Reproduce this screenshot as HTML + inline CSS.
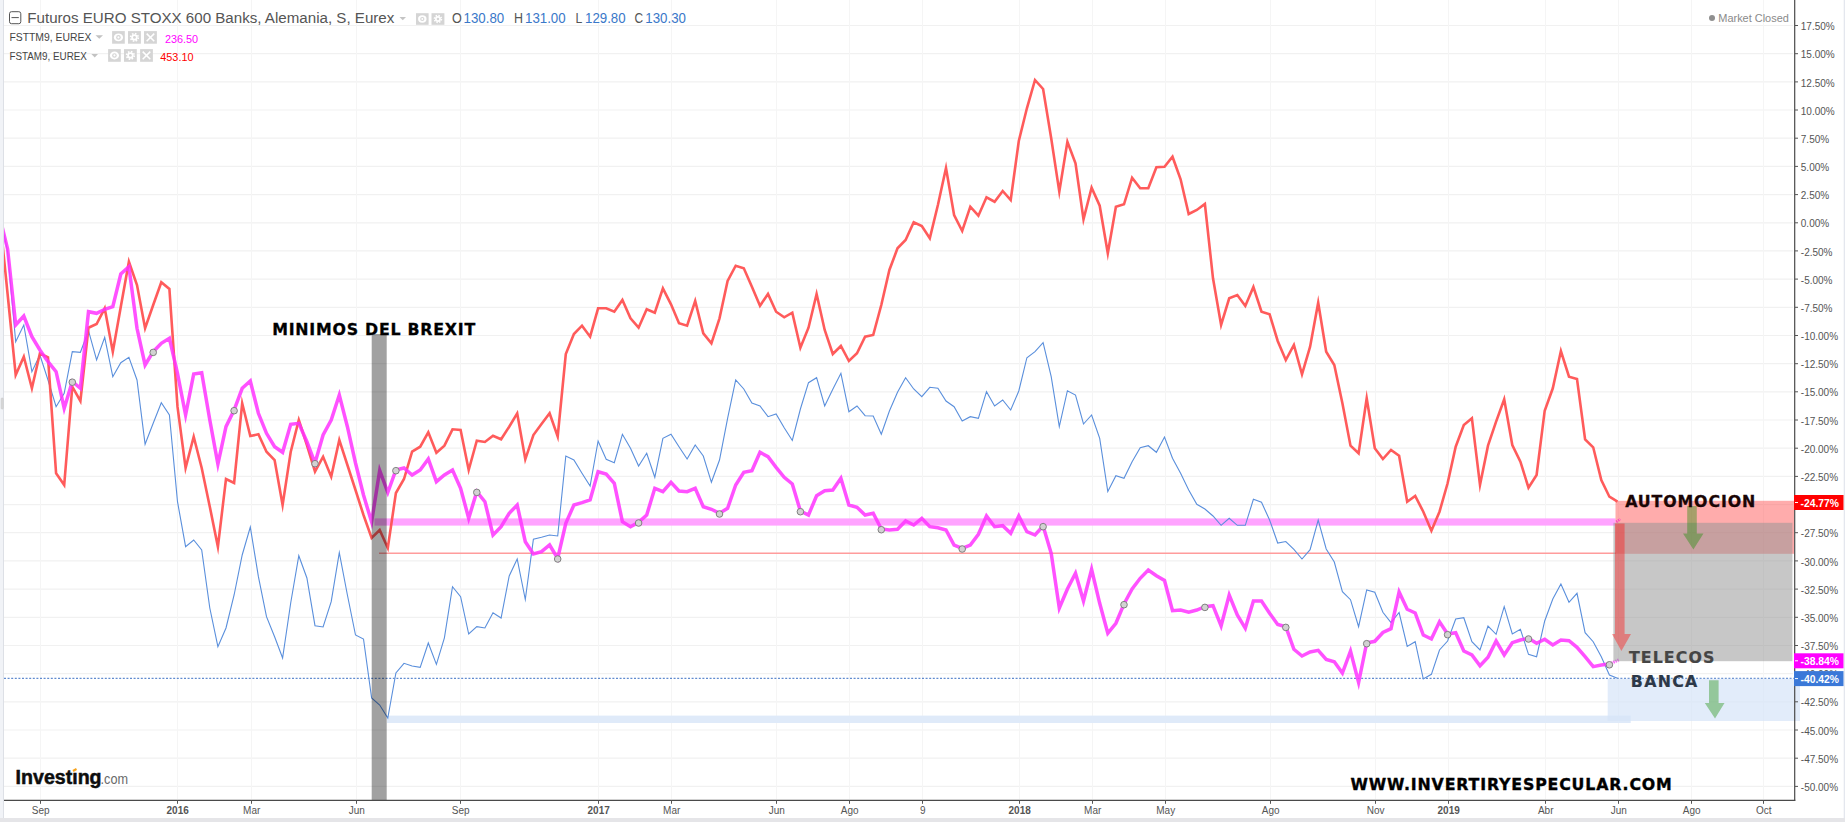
<!DOCTYPE html>
<html lang="es"><head><meta charset="utf-8"><title>Futuros EURO STOXX 600 Banks</title>
<style>html,body{margin:0;padding:0;background:#fff;overflow:hidden}svg{display:block}text{font-family:"Liberation Sans",sans-serif}.ax{font-size:10px;fill:#555}.blk{font-family:"DejaVu Sans","Liberation Sans",sans-serif;font-weight:bold;stroke-linejoin:miter}</style></head><body>
<svg width="1845" height="822" viewBox="0 0 1845 822">
<defs><clipPath id="cp"><rect x="4" y="0" width="1790.5" height="800"/></clipPath></defs>
<rect x="0" y="0" width="1845" height="822" fill="#fff"/>
<path d="M4 25.5H1793 M4 53.7H1793 M4 81.9H1793 M4 110.0H1793 M4 138.2H1793 M4 166.4H1793 M4 194.6H1793 M4 222.8H1793 M4 250.9H1793 M4 279.1H1793 M4 307.3H1793 M4 335.5H1793 M4 363.7H1793 M4 391.8H1793 M4 420.0H1793 M4 448.2H1793 M4 476.4H1793 M4 504.6H1793 M4 532.7H1793 M4 560.9H1793 M4 589.1H1793 M4 617.3H1793 M4 645.5H1793 M4 673.6H1793 M4 701.8H1793 M4 730.0H1793 M4 758.2H1793 M4 786.4H1793" stroke="#f1f1f1" stroke-width="1.2" fill="none"/>
<path d="M40.5 0V799 M177.5 0V799 M251.5 0V799 M356.5 0V799 M460.5 0V799 M598.5 0V799 M671.5 0V799 M776.5 0V799 M849.5 0V799 M922.5 0V799 M1019.5 0V799 M1092.5 0V799 M1165.5 0V799 M1270.5 0V799 M1375.5 0V799 M1448.5 0V799 M1545.5 0V799 M1618.5 0V799 M1691.5 0V799 M1763.5 0V799" stroke="#f5f5f5" stroke-width="1" fill="none"/>
<rect x="0" y="0" width="3" height="822" fill="#f1f3f7"/><rect x="3" y="0" width="1" height="822" fill="#dde0e6"/>
<rect x="1843.7" y="0" width="1.3" height="822" fill="#e4e7ee"/>
<rect x="0" y="818" width="1845" height="4" fill="#e5e5e8"/>
<rect x="1.2" y="398" width="2" height="11" rx="0.8" fill="#dadada" stroke="#c6c6c6" stroke-width="0.6"/>
<g clip-path="url(#cp)">
<rect x="387" y="715.6" width="1243.7" height="7.4" fill="#dfeaf9"/>
<rect x="374.5" y="518.4" width="1241" height="7.2" fill="#ffa3ff"/>
<path d="M379 553.3H1616" stroke="#ff9c9c" stroke-width="1.6" fill="none"/>
<path d="M4 678.3H1794" stroke="#3a6fc4" stroke-width="1" stroke-dasharray="2 1.6" fill="none"/>
<polyline points="-0.5,212.0 7.6,252.0 15.7,341.7 23.8,325.0 31.9,371.7 39.9,355.0 48.0,380.0 56.1,406.7 64.2,393.3 72.3,351.7 80.4,352.3 88.5,330.7 96.6,360.0 104.7,337.3 112.8,376.7 120.8,362.7 128.9,357.3 137.0,380.0 145.1,444.3 153.2,423.3 161.3,402.7 169.4,415.0 177.5,501.7 185.6,546.7 193.7,540.0 201.7,550.0 209.8,608.0 217.9,646.7 226.0,628.0 234.1,595.0 242.2,555.0 250.3,527.0 258.4,576.7 266.5,616.7 274.6,636.7 282.6,658.0 290.7,603.0 298.8,555.7 306.9,578.0 315.0,625.7 323.1,627.0 331.2,601.7 339.3,552.7 347.4,595.0 355.5,635.0 363.5,639.0 371.6,698.0 379.7,705.0 387.8,718.0 395.9,673.0 404.0,663.3 412.1,666.0 420.2,667.3 428.3,643.0 436.4,664.4 444.4,637.8 452.5,586.7 460.6,596.7 468.7,634.0 476.8,626.7 484.9,628.0 493.0,612.7 501.1,618.0 509.2,576.0 517.2,559.0 525.3,599.5 533.4,539.3 541.5,537.3 549.6,535.0 557.7,536.0 565.8,456.0 573.9,460.0 582.0,473.3 590.1,486.0 598.1,441.0 606.2,459.3 614.3,462.7 622.4,434.3 630.5,448.3 638.6,466.0 646.7,453.3 654.8,477.3 662.9,438.3 671.0,434.3 679.0,446.7 687.1,459.0 695.2,445.0 703.3,456.0 711.4,482.3 719.5,460.0 727.6,418.3 735.7,380.0 743.8,389.0 751.9,403.0 760.0,406.0 768.0,416.7 776.1,414.0 784.2,427.7 792.3,440.5 800.4,409.0 808.5,382.7 816.6,377.7 824.7,406.0 832.8,389.3 840.9,373.3 848.9,411.7 857.0,406.0 865.1,415.7 873.2,416.0 881.3,434.3 889.4,411.0 897.5,392.3 905.6,377.7 913.7,389.0 921.8,396.7 929.8,387.3 937.9,388.3 946.0,401.0 954.1,406.7 962.2,421.0 970.3,416.7 978.4,418.3 986.5,391.7 994.6,406.0 1002.7,400.0 1010.7,410.0 1018.8,391.0 1026.9,357.7 1035.0,351.7 1043.1,342.7 1051.2,376.7 1059.3,426.7 1067.4,390.7 1075.5,395.0 1083.5,424.0 1091.6,415.0 1099.7,438.3 1107.8,491.5 1115.9,475.7 1124.0,478.3 1132.1,461.7 1140.2,447.7 1148.3,445.7 1156.4,452.3 1164.5,437.0 1172.5,458.3 1180.6,473.3 1188.7,490.0 1196.8,504.3 1204.9,509.0 1213.0,516.0 1221.1,525.3 1229.2,518.3 1237.3,525.3 1245.3,525.3 1253.4,499.3 1261.5,502.3 1269.6,520.0 1277.7,543.0 1285.8,541.5 1293.9,549.3 1302.0,559.0 1310.1,549.7 1318.2,520.0 1326.2,549.0 1334.3,562.0 1342.4,591.7 1350.5,599.7 1358.6,626.7 1366.7,590.0 1374.8,592.3 1382.9,612.3 1391.0,622.7 1399.1,612.5 1407.2,646.5 1415.2,641.7 1423.3,679.0 1431.4,674.3 1439.5,650.0 1447.6,641.0 1455.7,619.0 1463.8,617.7 1471.9,641.7 1480.0,650.0 1488.0,626.0 1496.1,634.3 1504.2,606.7 1512.3,634.0 1520.4,629.3 1528.5,654.3 1536.6,656.7 1544.7,621.0 1552.8,599.0 1560.9,584.0 1569.0,602.3 1577.0,593.3 1585.1,632.7 1593.2,641.7 1601.3,656.7 1609.4,675.0 1617.5,678.3" fill="none" stroke="#5a8fdc" stroke-width="1.1" stroke-linejoin="miter" stroke-miterlimit="10"/>
<polyline points="-0.5,214.0 7.6,294.0 15.7,375.0 23.8,356.7 31.9,388.3 39.9,353.3 48.0,357.3 56.1,473.3 64.2,485.0 72.3,386.7 80.4,401.0 88.5,327.7 96.6,324.0 104.7,308.3 112.8,351.7 120.8,306.7 128.9,261.7 137.0,285.0 145.1,328.3 153.2,305.0 161.3,282.3 169.4,289.0 177.5,406.7 185.6,468.0 193.7,436.7 201.7,468.0 209.8,506.7 217.9,546.7 226.0,479.0 234.1,483.0 242.2,403.3 250.3,436.0 258.4,434.3 266.5,451.7 274.6,460.0 282.6,505.0 290.7,452.0 298.8,420.0 306.9,445.0 315.0,471.7 323.1,456.7 331.2,476.7 339.3,440.0 347.4,465.0 355.5,490.0 363.5,515.0 371.6,538.0 379.7,530.0 387.8,548.0 395.9,493.0 404.0,479.0 412.1,451.7 420.2,446.7 428.3,432.3 436.4,452.7 444.4,445.7 452.5,429.3 460.6,430.0 468.7,470.0 476.8,440.7 484.9,442.0 493.0,435.7 501.1,439.3 509.2,426.7 517.2,413.3 525.3,459.3 533.4,435.0 541.5,424.0 549.6,413.3 557.7,436.5 565.8,354.0 573.9,334.0 582.0,325.7 590.1,336.7 598.1,308.3 606.2,308.3 614.3,311.7 622.4,300.0 630.5,318.3 638.6,327.7 646.7,309.3 654.8,312.7 662.9,288.3 671.0,304.3 679.0,323.3 687.1,325.7 695.2,301.0 703.3,333.3 711.4,343.3 719.5,318.3 727.6,281.0 735.7,265.7 743.8,268.3 751.9,286.7 760.0,305.7 768.0,294.0 776.1,311.7 784.2,317.3 792.3,312.7 800.4,347.7 808.5,327.7 816.6,294.0 824.7,330.0 832.8,354.0 840.9,346.0 848.9,361.0 857.0,353.3 865.1,336.7 873.2,335.0 881.3,305.0 889.4,270.0 897.5,248.3 905.6,240.0 913.7,222.3 921.8,226.0 929.8,238.3 937.9,205.0 946.0,168.0 954.1,215.0 962.2,231.0 970.3,206.7 978.4,215.7 986.5,197.3 994.6,201.7 1002.7,191.0 1010.7,200.0 1018.8,141.0 1026.9,108.3 1035.0,80.0 1043.1,89.0 1051.2,138.3 1059.3,191.7 1067.4,141.7 1075.5,163.3 1083.5,219.3 1091.6,187.7 1099.7,205.7 1107.8,253.3 1115.9,206.7 1124.0,204.3 1132.1,177.7 1140.2,188.3 1148.3,188.3 1156.4,167.3 1164.5,166.7 1172.5,156.7 1180.6,179.3 1188.7,214.0 1196.8,210.0 1204.9,204.0 1213.0,278.3 1221.1,325.0 1229.2,298.3 1237.3,295.0 1245.3,306.0 1253.4,287.0 1261.5,311.7 1269.6,314.3 1277.7,341.0 1285.8,360.0 1293.9,345.0 1302.0,374.3 1310.1,346.7 1318.2,302.7 1326.2,351.7 1334.3,365.0 1342.4,403.3 1350.5,445.7 1358.6,453.3 1366.7,398.3 1374.8,448.3 1382.9,459.0 1391.0,450.0 1399.1,455.7 1407.2,501.7 1415.2,496.0 1423.3,511.7 1431.4,530.7 1439.5,511.7 1447.6,483.3 1455.7,446.7 1463.8,425.0 1471.9,418.3 1480.0,485.0 1488.0,445.7 1496.1,421.7 1504.2,399.3 1512.3,445.0 1520.4,461.7 1528.5,487.7 1536.6,475.0 1544.7,410.7 1552.8,388.3 1560.9,351.0 1569.0,376.7 1577.0,379.0 1585.1,439.3 1593.2,447.3 1601.3,480.0 1609.4,496.7 1617.5,501.7" fill="none" stroke="#ff5252" stroke-width="2.6" stroke-linejoin="miter" stroke-miterlimit="10" stroke-opacity="0.95"/>
<polyline points="-0.5,216.0 7.6,249.0 15.7,325.0 23.8,316.0 31.9,336.7 39.9,350.0 48.0,361.7 56.1,371.7 64.2,408.3 72.3,381.5 80.4,388.3 88.5,311.7 96.6,313.3 104.7,309.3 112.8,306.7 120.8,274.0 128.9,266.7 137.0,328.3 145.1,365.0 153.2,351.7 161.3,343.3 169.4,338.3 177.5,373.3 185.6,415.0 193.7,374.0 201.7,372.7 209.8,420.0 217.9,464.0 226.0,426.7 234.1,410.0 242.2,388.3 250.3,381.0 258.4,413.3 266.5,433.3 274.6,446.7 282.6,452.3 290.7,424.3 298.8,423.3 306.9,441.7 315.0,463.0 323.1,435.0 331.2,420.0 339.3,395.0 347.4,426.7 355.5,463.0 363.5,495.0 371.6,522.0 379.7,470.5 387.8,492.5 395.9,470.0 404.0,468.0 412.1,475.0 420.2,470.0 428.3,459.0 436.4,481.7 444.4,475.0 452.5,470.0 460.6,488.3 468.7,518.3 476.8,491.7 484.9,501.7 493.0,535.0 501.1,526.7 509.2,513.3 517.2,505.0 525.3,541.7 533.4,554.0 541.5,551.7 549.6,545.0 557.7,558.3 565.8,523.3 573.9,505.0 582.0,502.7 590.1,500.0 598.1,471.7 606.2,474.0 614.3,483.3 622.4,521.7 630.5,526.7 638.6,522.3 646.7,515.0 654.8,488.3 662.9,491.7 671.0,482.3 679.0,491.0 687.1,491.7 695.2,488.3 703.3,506.7 711.4,509.3 719.5,513.3 727.6,508.3 735.7,485.0 743.8,472.3 751.9,470.7 760.0,452.3 768.0,456.7 776.1,467.3 784.2,477.3 792.3,484.0 800.4,511.0 808.5,515.0 816.6,495.7 824.7,490.7 832.8,490.0 840.9,478.3 848.9,505.0 857.0,507.3 865.1,515.0 873.2,513.3 881.3,529.0 889.4,530.0 897.5,529.3 905.6,521.0 913.7,525.0 921.8,518.3 929.8,526.7 937.9,527.7 946.0,530.0 954.1,545.0 962.2,548.3 970.3,545.0 978.4,534.3 986.5,516.0 994.6,526.7 1002.7,525.7 1010.7,533.3 1018.8,516.0 1026.9,531.7 1035.0,535.0 1043.1,526.0 1051.2,553.3 1059.3,608.0 1067.4,589.0 1075.5,573.3 1083.5,601.0 1091.6,569.3 1099.7,603.3 1107.8,633.3 1115.9,623.3 1124.0,604.0 1132.1,589.0 1140.2,578.3 1148.3,570.0 1156.4,575.7 1164.5,580.5 1172.5,610.7 1180.6,610.0 1188.7,612.3 1196.8,610.0 1204.9,606.7 1213.0,605.7 1221.1,626.0 1229.2,595.0 1237.3,615.0 1245.3,628.3 1253.4,601.0 1261.5,601.0 1269.6,613.3 1277.7,624.5 1285.8,626.7 1293.9,649.3 1302.0,656.0 1310.1,652.0 1318.2,650.3 1326.2,659.5 1334.3,661.7 1342.4,673.0 1350.5,651.0 1358.6,682.5 1366.7,643.0 1374.8,641.3 1382.9,632.5 1391.0,628.7 1399.1,592.0 1407.2,609.3 1415.2,613.0 1423.3,635.0 1431.4,639.0 1439.5,621.7 1447.6,634.0 1455.7,632.7 1463.8,651.0 1471.9,655.0 1480.0,665.7 1488.0,657.3 1496.1,641.0 1504.2,655.0 1512.3,642.7 1520.4,640.0 1528.5,638.3 1536.6,643.3 1544.7,639.3 1552.8,645.0 1560.9,640.0 1569.0,640.7 1577.0,647.3 1585.1,656.7 1593.2,666.6 1601.3,665.1 1609.4,664.1" fill="none" stroke="#ff33ff" stroke-width="3.5" stroke-linejoin="miter" stroke-miterlimit="10" stroke-opacity="0.85"/>
<path d="M1609.4 664.1L1619.4 659.6" stroke="#ff33ff" stroke-opacity="0.8" stroke-width="3" stroke-dasharray="1.4 0.8" fill="none"/>
<circle cx="72.3" cy="382.2" r="3.3" fill="#d2d2d2" stroke="#808080" stroke-width="1"/>
<circle cx="153.2" cy="352.4" r="3.3" fill="#d2d2d2" stroke="#808080" stroke-width="1"/>
<circle cx="234.1" cy="410.7" r="3.3" fill="#d2d2d2" stroke="#808080" stroke-width="1"/>
<circle cx="315.0" cy="463.7" r="3.3" fill="#d2d2d2" stroke="#808080" stroke-width="1"/>
<circle cx="395.9" cy="470.7" r="3.3" fill="#d2d2d2" stroke="#808080" stroke-width="1"/>
<circle cx="476.8" cy="492.4" r="3.3" fill="#d2d2d2" stroke="#808080" stroke-width="1"/>
<circle cx="557.7" cy="559.0" r="3.3" fill="#d2d2d2" stroke="#808080" stroke-width="1"/>
<circle cx="638.6" cy="523.0" r="3.3" fill="#d2d2d2" stroke="#808080" stroke-width="1"/>
<circle cx="719.5" cy="514.0" r="3.3" fill="#d2d2d2" stroke="#808080" stroke-width="1"/>
<circle cx="800.4" cy="511.7" r="3.3" fill="#d2d2d2" stroke="#808080" stroke-width="1"/>
<circle cx="881.3" cy="529.7" r="3.3" fill="#d2d2d2" stroke="#808080" stroke-width="1"/>
<circle cx="962.2" cy="549.0" r="3.3" fill="#d2d2d2" stroke="#808080" stroke-width="1"/>
<circle cx="1043.1" cy="526.7" r="3.3" fill="#d2d2d2" stroke="#808080" stroke-width="1"/>
<circle cx="1124.0" cy="604.7" r="3.3" fill="#d2d2d2" stroke="#808080" stroke-width="1"/>
<circle cx="1204.9" cy="607.4" r="3.3" fill="#d2d2d2" stroke="#808080" stroke-width="1"/>
<circle cx="1285.8" cy="627.4" r="3.3" fill="#d2d2d2" stroke="#808080" stroke-width="1"/>
<circle cx="1366.7" cy="643.7" r="3.3" fill="#d2d2d2" stroke="#808080" stroke-width="1"/>
<circle cx="1447.6" cy="634.7" r="3.3" fill="#d2d2d2" stroke="#808080" stroke-width="1"/>
<circle cx="1528.5" cy="639.0" r="3.3" fill="#d2d2d2" stroke="#808080" stroke-width="1"/>
<circle cx="1609.4" cy="664.8" r="3.3" fill="#d2d2d2" stroke="#808080" stroke-width="1"/>
<rect x="371.7" y="334" width="15" height="466" fill="#000" fill-opacity="0.37"/>
<rect x="1607.7" y="678.8" width="192" height="42.2" fill="#d6e4f8" fill-opacity="0.7"/>
<rect x="1615.5" y="500.8" width="178.5" height="53" fill="#ff5a5a" fill-opacity="0.5"/>
<rect x="1613.4" y="522.8" width="179" height="138.4" fill="#969696" fill-opacity="0.53"/>
<path d="M1615 523.5H1624.6V634H1631L1621.4 651L1612 634H1615Z" fill="#ff1919" fill-opacity="0.42"/><path d="M1616.3 521.8L1620.3 519.2" stroke="#ff40c0" stroke-width="2.6" stroke-dasharray="1.3 0.9" fill="none"/>
<path d="M1687.2 506H1696.8V533.5H1703.5L1693.4 549.6L1683 533.5H1687.2Z" fill="#148c00" fill-opacity="0.38"/>
<path d="M1709 680.2H1718.6V703H1724.5L1715 718.6L1704.8 703H1709Z" fill="#148c00" fill-opacity="0.38"/>
</g>
<rect x="1794.5" y="678.8" width="5.5" height="42.2" fill="#d6e4f8" fill-opacity="0.7"/>
<path d="M1794.7 0V800.5" stroke="#4a4a4a" stroke-width="1.2" fill="none"/>
<path d="M4 800.4H1795.4" stroke="#4a4a4a" stroke-width="1.4" fill="none"/>
<path d="M1795 25.5h3 M1795 53.7h3 M1795 81.9h3 M1795 110.0h3 M1795 138.2h3 M1795 166.4h3 M1795 194.6h3 M1795 222.8h3 M1795 250.9h3 M1795 279.1h3 M1795 307.3h3 M1795 335.5h3 M1795 363.7h3 M1795 391.8h3 M1795 420.0h3 M1795 448.2h3 M1795 476.4h3 M1795 504.6h3 M1795 532.7h3 M1795 560.9h3 M1795 589.1h3 M1795 617.3h3 M1795 645.5h3 M1795 673.6h3 M1795 701.8h3 M1795 730.0h3 M1795 758.2h3 M1795 786.4h3 M40.5 800.5v3.3 M177.5 800.5v3.3 M251.5 800.5v3.3 M356.5 800.5v3.3 M460.5 800.5v3.3 M598.5 800.5v3.3 M671.5 800.5v3.3 M776.5 800.5v3.3 M849.5 800.5v3.3 M922.5 800.5v3.3 M1019.5 800.5v3.3 M1092.5 800.5v3.3 M1165.5 800.5v3.3 M1270.5 800.5v3.3 M1375.5 800.5v3.3 M1448.5 800.5v3.3 M1545.5 800.5v3.3 M1618.5 800.5v3.3 M1691.5 800.5v3.3 M1763.5 800.5v3.3" stroke="#555" stroke-width="1" fill="none"/>
<text class="ax" x="1800.8" y="30.1">17.50%</text>
<text class="ax" x="1800.8" y="58.3">15.00%</text>
<text class="ax" x="1800.8" y="86.5">12.50%</text>
<text class="ax" x="1800.8" y="114.6">10.00%</text>
<text class="ax" x="1800.8" y="142.8">7.50%</text>
<text class="ax" x="1800.8" y="171.0">5.00%</text>
<text class="ax" x="1800.8" y="199.2">2.50%</text>
<text class="ax" x="1800.8" y="227.4">0.00%</text>
<text class="ax" x="1800.8" y="255.5">-2.50%</text>
<text class="ax" x="1800.8" y="283.7">-5.00%</text>
<text class="ax" x="1800.8" y="311.9">-7.50%</text>
<text class="ax" x="1800.8" y="340.1">-10.00%</text>
<text class="ax" x="1800.8" y="368.3">-12.50%</text>
<text class="ax" x="1800.8" y="396.4">-15.00%</text>
<text class="ax" x="1800.8" y="424.6">-17.50%</text>
<text class="ax" x="1800.8" y="452.8">-20.00%</text>
<text class="ax" x="1800.8" y="481.0">-22.50%</text>
<text class="ax" x="1800.8" y="509.2">-25.00%</text>
<text class="ax" x="1800.8" y="537.3">-27.50%</text>
<text class="ax" x="1800.8" y="565.5">-30.00%</text>
<text class="ax" x="1800.8" y="593.7">-32.50%</text>
<text class="ax" x="1800.8" y="621.9">-35.00%</text>
<text class="ax" x="1800.8" y="650.1">-37.50%</text>
<text class="ax" x="1800.8" y="678.2">-40.00%</text>
<text class="ax" x="1800.8" y="706.4">-42.50%</text>
<text class="ax" x="1800.8" y="734.6">-45.00%</text>
<text class="ax" x="1800.8" y="762.8">-47.50%</text>
<text class="ax" x="1800.8" y="791.0">-50.00%</text>
<text class="ax" x="40.7" y="814" text-anchor="middle">Sep</text>
<text class="ax" x="177.7" y="814" text-anchor="middle" font-weight="bold">2016</text>
<text class="ax" x="251.7" y="814" text-anchor="middle">Mar</text>
<text class="ax" x="356.7" y="814" text-anchor="middle">Jun</text>
<text class="ax" x="460.7" y="814" text-anchor="middle">Sep</text>
<text class="ax" x="598.7" y="814" text-anchor="middle" font-weight="bold">2017</text>
<text class="ax" x="671.7" y="814" text-anchor="middle">Mar</text>
<text class="ax" x="776.7" y="814" text-anchor="middle">Jun</text>
<text class="ax" x="849.7" y="814" text-anchor="middle">Ago</text>
<text class="ax" x="922.7" y="814" text-anchor="middle">9</text>
<text class="ax" x="1019.7" y="814" text-anchor="middle" font-weight="bold">2018</text>
<text class="ax" x="1092.7" y="814" text-anchor="middle">Mar</text>
<text class="ax" x="1165.7" y="814" text-anchor="middle">May</text>
<text class="ax" x="1270.7" y="814" text-anchor="middle">Ago</text>
<text class="ax" x="1375.7" y="814" text-anchor="middle">Nov</text>
<text class="ax" x="1448.7" y="814" text-anchor="middle" font-weight="bold">2019</text>
<text class="ax" x="1545.7" y="814" text-anchor="middle">Abr</text>
<text class="ax" x="1618.7" y="814" text-anchor="middle">Jun</text>
<text class="ax" x="1691.7" y="814" text-anchor="middle">Ago</text>
<text class="ax" x="1763.7" y="814" text-anchor="middle">Oct</text>
<rect x="1794" y="495.0" width="49.5" height="15" fill="#ff0000"/>
<path d="M1795 502.5h3" stroke="#fff" stroke-width="1"/>
<text x="1800.5" y="506.5" font-size="11" font-weight="bold" fill="#fff" textLength="38.5" lengthAdjust="spacingAndGlyphs">-24.77%</text>
<rect x="1794" y="653.3" width="49.5" height="15" fill="#ff00ff"/>
<path d="M1795 660.8h3" stroke="#fff" stroke-width="1"/>
<text x="1800.5" y="664.8" font-size="11" font-weight="bold" fill="#fff" textLength="38.5" lengthAdjust="spacingAndGlyphs">-38.84%</text>
<rect x="1794" y="671.1" width="49.5" height="15" fill="#3a78d8"/>
<path d="M1795 678.6h3" stroke="#fff" stroke-width="1"/>
<text x="1800.5" y="682.6" font-size="11" font-weight="bold" fill="#fff" textLength="38.5" lengthAdjust="spacingAndGlyphs">-40.42%</text>
<rect x="9.5" y="11.7" width="11.3" height="12" rx="2" fill="#fff" stroke="#555" stroke-width="1"/><path d="M11.5 17.6H18.8" stroke="#555" stroke-width="1"/>
<text x="27.3" y="23.1" font-size="15.5" fill="#555" textLength="367" lengthAdjust="spacingAndGlyphs">Futuros EURO STOXX 600 Banks, Alemania, S, Eurex</text>
<path d="M399.5 17h6.5l-3.25 3.3z" fill="#c4c4c4"/>
<rect x="416" y="13.2" width="12.6" height="11.6" fill="#d5d5d5"/>
<ellipse cx="422.3" cy="19.0" rx="4.23" ry="3.63" fill="#fff"/><circle cx="422.3" cy="19.0" r="2.12" fill="#d5d5d5"/><circle cx="422.3" cy="19.0" r="1.01" fill="#fff"/>
<rect x="431.5" y="13.2" width="12.9" height="11.6" fill="#d5d5d5"/>
<circle cx="437.95" cy="19.0" r="2.94" fill="#fff"/><circle cx="437.95" cy="19.0" r="3.50" fill="none" stroke="#fff" stroke-width="1.56" stroke-dasharray="1.426 1.320"/><circle cx="437.95" cy="19.0" r="1.29" fill="#d5d5d5"/>
<text x="452" y="23.3" font-size="14" fill="#555" textLength="9.8" lengthAdjust="spacingAndGlyphs">O</text>
<text x="463.6" y="23.3" font-size="14" fill="#3a78c9" textLength="40.6" lengthAdjust="spacingAndGlyphs">130.80</text>
<text x="514" y="23.3" font-size="14" fill="#555" textLength="9" lengthAdjust="spacingAndGlyphs">H</text>
<text x="525" y="23.3" font-size="14" fill="#3a78c9" textLength="40.6" lengthAdjust="spacingAndGlyphs">131.00</text>
<text x="575.5" y="23.3" font-size="14" fill="#555" textLength="6.8" lengthAdjust="spacingAndGlyphs">L</text>
<text x="585" y="23.3" font-size="14" fill="#3a78c9" textLength="40.6" lengthAdjust="spacingAndGlyphs">129.80</text>
<text x="634.5" y="23.3" font-size="14" fill="#555" textLength="8.6" lengthAdjust="spacingAndGlyphs">C</text>
<text x="645.3" y="23.3" font-size="14" fill="#3a78c9" textLength="40.6" lengthAdjust="spacingAndGlyphs">130.30</text>
<text x="9.4" y="40.9" font-size="11" fill="#444" textLength="82" lengthAdjust="spacingAndGlyphs">FSTTM9, EUREX</text>
<path d="M95.5 35.2h7.5l-3.75 3.5z" fill="#c2c2c2"/>
<rect x="112.1" y="31.1" width="12.7" height="12.6" fill="#d5d5d5"/>
<ellipse cx="118.45" cy="37.4" rx="4.60" ry="3.95" fill="#fff"/><circle cx="118.45" cy="37.4" r="2.30" fill="#d5d5d5"/><circle cx="118.45" cy="37.4" r="1.10" fill="#fff"/>
<rect x="128" y="31.1" width="12.9" height="12.6" fill="#d5d5d5"/>
<circle cx="134.45" cy="37.4" r="3.20" fill="#fff"/><circle cx="134.45" cy="37.4" r="3.80" fill="none" stroke="#fff" stroke-width="1.70" stroke-dasharray="1.550 1.435"/><circle cx="134.45" cy="37.4" r="1.40" fill="#d5d5d5"/>
<rect x="144" y="31.1" width="12.9" height="12.6" fill="#d5d5d5"/>
<path d="M146.65 33.60L154.25 41.20M154.25 33.60L146.65 41.20" stroke="#fff" stroke-width="1.5" fill="none"/>
<text x="164.9" y="43" font-size="11" fill="#ff00ff" textLength="33.2" lengthAdjust="spacingAndGlyphs">236.50</text>
<text x="9.4" y="59.9" font-size="11" fill="#444" textLength="77.5" lengthAdjust="spacingAndGlyphs">FSTAM9, EUREX</text>
<path d="M91.4 54h6.6l-3.3 3.5z" fill="#c2c2c2"/>
<rect x="108.1" y="49.1" width="12.7" height="12.7" fill="#d5d5d5"/>
<ellipse cx="114.45" cy="55.45" rx="4.60" ry="3.95" fill="#fff"/><circle cx="114.45" cy="55.45" r="2.30" fill="#d5d5d5"/><circle cx="114.45" cy="55.45" r="1.10" fill="#fff"/>
<rect x="124" y="49.1" width="12.8" height="12.7" fill="#d5d5d5"/>
<circle cx="130.4" cy="55.45" r="3.20" fill="#fff"/><circle cx="130.4" cy="55.45" r="3.80" fill="none" stroke="#fff" stroke-width="1.70" stroke-dasharray="1.550 1.435"/><circle cx="130.4" cy="55.45" r="1.40" fill="#d5d5d5"/>
<rect x="140.1" y="49.1" width="12.8" height="12.7" fill="#d5d5d5"/>
<path d="M142.70 51.65L150.30 59.25M150.30 51.65L142.70 59.25" stroke="#fff" stroke-width="1.5" fill="none"/>
<text x="160.3" y="61.1" font-size="11" fill="#ff0000" textLength="33.2" lengthAdjust="spacingAndGlyphs">453.10</text>
<circle cx="1712" cy="18" r="3" fill="#8f8f8f"/>
<text x="1718.3" y="22" font-size="11" fill="#8a8a8a" textLength="70.5" lengthAdjust="spacingAndGlyphs">Market Closed</text>
<text class="blk" x="272.2" y="334.6" font-size="15.8" fill="#000" stroke="#000" stroke-width="0.3" textLength="203" lengthAdjust="spacing">MINIMOS DEL BREXIT</text>
<text class="blk" x="1625.2" y="506.8" font-size="15.8" fill="#1a0505" stroke="#1a0505" stroke-width="0.3" textLength="130" lengthAdjust="spacing">AUTOMOCION</text>
<text class="blk" x="1628.9" y="663" font-size="15.8" fill="#454545" stroke="#454545" stroke-width="0.2" textLength="85.5" lengthAdjust="spacing">TELECOS</text>
<text class="blk" x="1630.8" y="686.8" font-size="15.8" fill="#2c3848" stroke="#2c3848" stroke-width="0.2" textLength="66.5" lengthAdjust="spacing">BANCA</text>
<text class="blk" x="1350.5" y="790" font-size="15.8" fill="#000" stroke="#000" stroke-width="0.35" textLength="321.3" lengthAdjust="spacing">WWW.INVERTIRYESPECULAR.COM</text>
<text x="15.6" y="784" font-size="19.5" font-weight="bold" fill="#0d0d0d" stroke="#0d0d0d" stroke-width="0.5" textLength="86" lengthAdjust="spacingAndGlyphs">Investing</text>
<rect x="72.2" y="767" width="6.4" height="4.9" fill="#fff"/><path d="M72.5 769.9l3.5-1.9 1 2-3.5 2.1z" fill="#f7a21b"/>
<text x="100.6" y="784" font-size="14.5" fill="#6a6a6a" textLength="27.5" lengthAdjust="spacingAndGlyphs">.com</text>
</svg></body></html>
